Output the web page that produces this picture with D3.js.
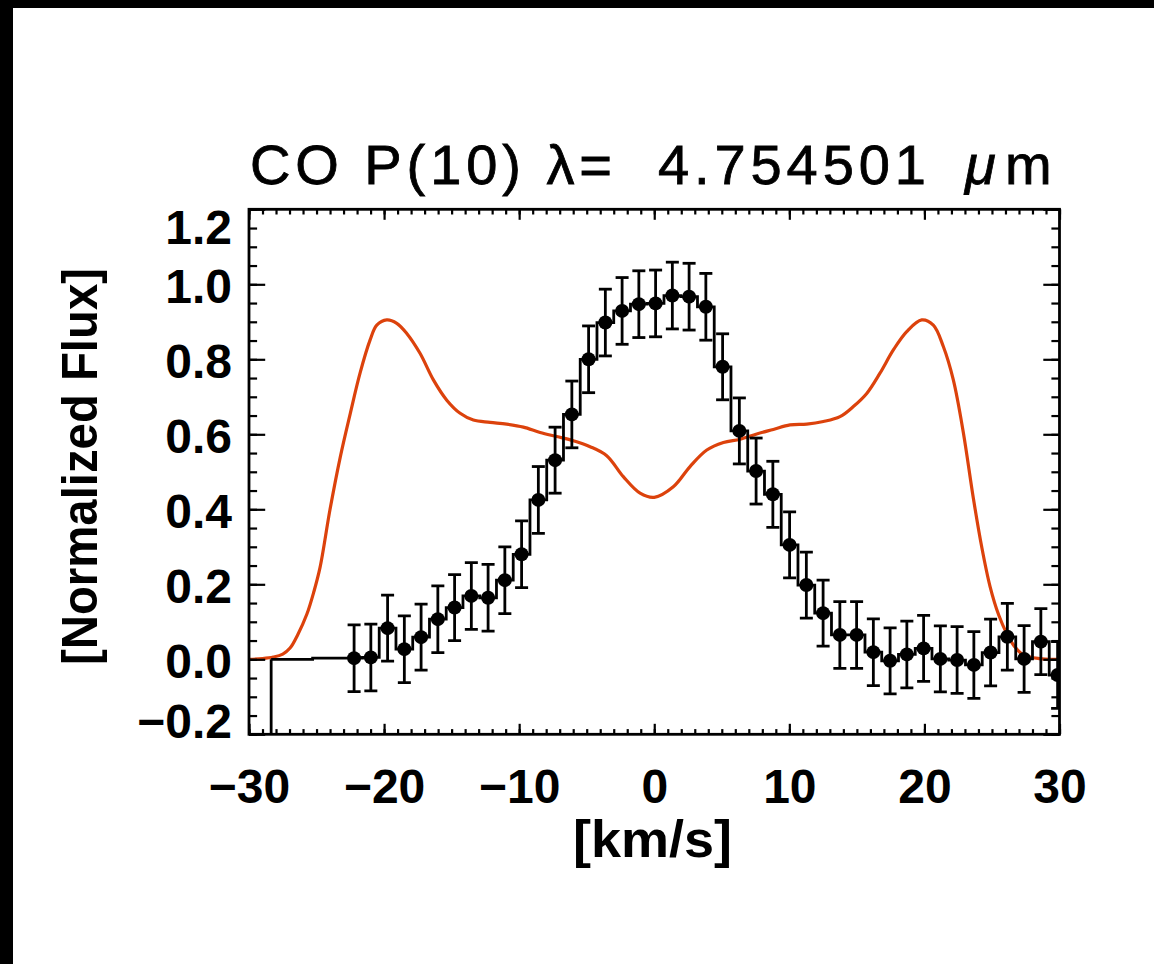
<!DOCTYPE html>
<html>
<head>
<meta charset="utf-8">
<script src="https://cdn.jsdelivr.net/npm/d3@7"></script>
<style>
  html, body { margin: 0; padding: 0; background: #fff; }
  svg { display: block; }
  text { font-family: "Liberation Sans", Arial, sans-serif; fill: #000; white-space: pre; }
</style>
</head>
<body>
<svg id="chart" width="1154" height="964"></svg>
<script>
// Observed line profile: bin velocities (km/s), normalized flux, 1-sigma errors
const velocity = [-22.22, -20.98, -19.74, -18.50, -17.26, -16.02, -14.78, -13.54, -12.30, -11.06,
                  -9.82, -8.58, -7.34, -6.10, -4.86, -3.62, -2.38, -1.14, 0.10, 1.34,
                  2.58, 3.82, 5.06, 6.30, 7.54, 8.78, 10.02, 11.26, 12.50, 13.74,
                  14.98, 16.22, 17.46, 18.70, 19.94, 21.18, 22.42, 23.66, 24.90, 26.14,
                  27.38, 28.62, 29.86];
const flux = [0.003, 0.005, 0.083, 0.027, 0.059, 0.107, 0.138, 0.169, 0.164, 0.211,
              0.280, 0.425, 0.531, 0.653, 0.800, 0.898, 0.929, 0.947, 0.949, 0.970,
              0.967, 0.940, 0.780, 0.609, 0.502, 0.440, 0.305, 0.198, 0.123, 0.065,
              0.065, 0.019, -0.004, 0.013, 0.029, 0.001, -0.002, -0.015, 0.018, 0.060,
              0.001, 0.047, -0.042];
const fluxErr = [0.089, 0.089, 0.088, 0.089, 0.088, 0.089, 0.088, 0.089, 0.089, 0.089,
                 0.089, 0.089, 0.088, 0.089, 0.089, 0.089, 0.089, 0.089, 0.089, 0.089,
                 0.089, 0.089, 0.088, 0.088, 0.088, 0.088, 0.088, 0.088, 0.088, 0.089,
                 0.089, 0.089, 0.088, 0.089, 0.088, 0.088, 0.089, 0.089, 0.089, 0.089,
                 0.089, 0.088, 0.089];
// Leading part of the histogram trace (unmarked bin rising from below the window)
const leadVelocity = [-28.36, -28.36];
const leadFlux = [-0.30, 0.0];

// Model profile (double-peaked disk emission)
const modelVelocity = [-30.0, -29.0, -28.2, -27.5, -26.96, -26.4, -25.72, -25.2, -24.74, -24.0,
                       -23.24, -22.5, -21.78, -21.04, -20.54, -19.8, -19.06, -18.32, -17.34, -16.35,
                       -15.36, -14.37, -13.39, -12.15, -10.92, -9.69, -8.45, -7.22, -5.99, -4.75,
                       -3.52, -2.29, -1.05, 0.0, 1.41, 2.65, 3.89, 5.12, 6.35, 7.59,
                       8.82, 10.05, 11.29, 12.52, 13.75, 14.74, 15.73, 16.71, 17.7, 18.69,
                       19.8, 20.66, 21.4, 22.14, 22.88, 23.62, 24.24, 24.86, 25.5, 26.09,
                       26.7, 27.32, 28.5, 29.8, 30.0];
const modelFlux = [0.000, 0.002, 0.006, 0.014, 0.030, 0.065, 0.120, 0.180, 0.245, 0.400,
                   0.540, 0.656, 0.763, 0.851, 0.891, 0.905, 0.896, 0.869, 0.816, 0.745,
                   0.691, 0.656, 0.638, 0.632, 0.627, 0.619, 0.605, 0.594, 0.583, 0.567,
                   0.543, 0.487, 0.443, 0.432, 0.460, 0.514, 0.558, 0.578, 0.587, 0.601,
                   0.613, 0.625, 0.627, 0.634, 0.647, 0.674, 0.709, 0.763, 0.825, 0.874,
                   0.905, 0.891, 0.834, 0.745, 0.605, 0.430, 0.300, 0.194, 0.118, 0.069,
                   0.033, 0.012, 0.002, 0.000, 0.000];

// Axis ticks and labels
const xMajorTicks = [-30, -20, -10, 0, 10, 20, 30];
const xTickLabels = ["\u221230", "\u221220", "\u221210", "0", "10", "20", "30"];
const xMinorTicks = d3.range(-30, 31, 1);
const yMajorTicks = [-0.2, 0.0, 0.2, 0.4, 0.6, 0.8, 1.0, 1.2];
const yTickLabels = ["\u22120.2", "0.0", "0.2", "0.4", "0.6", "0.8", "1.0", "1.2"];
const yMinorTicks = d3.range(-0.2, 1.2001, 0.05);

const titleMain = "CO P(10) \u03bb=  4.754501";
const titleMu = "\u03bc";
const titleM = "m";
const xTitle = "[km/s]";
const yTitle = "[Normalized Flux]";

(function drawChart() {
  const svg = d3.select("#chart");
  const W = 1154, H = 964;
  const pLeft = 249, pRight = 1059.5, pTop = 209.3, pBottom = 734.3;

  const x = d3.scaleLinear().domain([-30, 30]).range([pLeft, pRight]);
  const y = d3.scaleLinear().domain([-0.2, 1.2]).range([pBottom, pTop]);

  svg.append("rect").attr("width", W).attr("height", H).attr("fill", "#fff");
  // dark margin strips along the top and left edges
  svg.append("rect").attr("x", 0).attr("y", 0).attr("width", W).attr("height", 8).attr("fill", "#000");
  svg.append("rect").attr("x", 0).attr("y", 0).attr("width", 13).attr("height", H).attr("fill", "#000");

  svg.append("clipPath").attr("id", "plotClip")
    .append("rect").attr("x", pLeft).attr("y", pTop)
    .attr("width", pRight - pLeft).attr("height", pBottom - pTop);

  const plot = svg.append("g").attr("clip-path", "url(#plotClip)");

  // model curve
  const modelLine = d3.line()
    .x((d, i) => x(modelVelocity[i]))
    .y((d, i) => y(modelFlux[i]))
    .curve(d3.curveCatmullRom.alpha(0.5));
  plot.append("path")
    .attr("d", modelLine(modelVelocity))
    .attr("fill", "none")
    .attr("stroke", "#dc420c")
    .attr("stroke-width", 3.2);

  // histogram trace of the data
  const leadPts = leadVelocity.map((v, i) => [v, leadFlux[i]]);
  plot.append("path")
    .attr("d", d3.line().x(d => x(d[0])).y(d => y(d[1]))(leadPts))
    .attr("fill", "none").attr("stroke", "#000").attr("stroke-width", 2.8);
  const stepPts = [[leadVelocity[1], leadFlux[1]]].concat(velocity.map((v, i) => [v, flux[i]]));
  plot.append("path")
    .attr("d", d3.line().x(d => x(d[0])).y(d => y(d[1])).curve(d3.curveStep)(stepPts))
    .attr("fill", "none").attr("stroke", "#000").attr("stroke-width", 2.8)
    .attr("stroke-linejoin", "miter");

  // error bars
  const eb = plot.append("g").attr("stroke", "#000").attr("stroke-width", 2.8);
  velocity.forEach((v, i) => {
    const cx = x(v), y0 = y(flux[i] - fluxErr[i]), y1 = y(flux[i] + fluxErr[i]);
    eb.append("line").attr("x1", cx).attr("x2", cx).attr("y1", y0).attr("y2", y1);
    eb.append("line").attr("x1", cx - 6.5).attr("x2", cx + 6.5).attr("y1", y0).attr("y2", y0);
    eb.append("line").attr("x1", cx - 6.5).attr("x2", cx + 6.5).attr("y1", y1).attr("y2", y1);
  });

  // markers
  plot.append("g").selectAll("circle")
    .data(velocity)
    .join("circle")
    .attr("cx", d => x(d))
    .attr("cy", (d, i) => y(flux[i]))
    .attr("r", 7)
    .attr("fill", "#000");

  // axes: inward ticks on all four sides
  const xMajLen = 10.5, xMinLen = 5.2, yMajLen = 16.2, yMinLen = 8.1;
  const tickStyle = g => {
    g.select(".domain").remove();
    g.selectAll(".tick line").attr("stroke", "#000").attr("stroke-width", 2.2);
  };

  svg.append("g").attr("transform", `translate(0,${pBottom})`)
    .call(d3.axisBottom(x).tickValues(xMinorTicks).tickSize(-xMinLen).tickFormat(""))
    .call(tickStyle);
  svg.append("g").attr("transform", `translate(0,${pTop})`)
    .call(d3.axisTop(x).tickValues(xMinorTicks).tickSize(-xMinLen).tickFormat(""))
    .call(tickStyle);
  svg.append("g").attr("transform", `translate(0,${pTop})`)
    .call(d3.axisTop(x).tickValues(xMajorTicks).tickSize(-xMajLen).tickFormat(""))
    .call(tickStyle);
  const xAxis = svg.append("g").attr("transform", `translate(0,${pBottom})`)
    .call(d3.axisBottom(x).tickValues(xMajorTicks).tickSize(-xMajLen)
      .tickFormat((d, i) => xTickLabels[i]))
    .call(tickStyle);
  xAxis.selectAll(".tick text")
    .attr("y", 69).attr("dy", null)
    .attr("font-size", 48).attr("font-weight", "bold")
    .attr("font-family", "Liberation Sans, Arial, sans-serif")
    .attr("fill", "#000");

  svg.append("g").attr("transform", `translate(${pLeft},0)`)
    .call(d3.axisLeft(y).tickValues(yMinorTicks).tickSize(-yMinLen).tickFormat(""))
    .call(tickStyle);
  svg.append("g").attr("transform", `translate(${pRight},0)`)
    .call(d3.axisRight(y).tickValues(yMinorTicks).tickSize(-yMinLen).tickFormat(""))
    .call(tickStyle);
  svg.append("g").attr("transform", `translate(${pRight},0)`)
    .call(d3.axisRight(y).tickValues(yMajorTicks).tickSize(-yMajLen).tickFormat(""))
    .call(tickStyle);
  const yAxis = svg.append("g").attr("transform", `translate(${pLeft},0)`)
    .call(d3.axisLeft(y).tickValues(yMajorTicks).tickSize(-yMajLen)
      .tickFormat((d, i) => yTickLabels[i]))
    .call(tickStyle);
  // labels at the ends of the axis are kept inside the frame height
  yAxis.selectAll(".tick text")
    .attr("x", -17)
    .attr("y", d => {
      const p = y(d);
      return Math.min(Math.max(p, pTop + 16), pBottom - 15) - p + 18;
    })
    .attr("dy", null)
    .attr("font-size", 48).attr("font-weight", "bold")
    .attr("font-family", "Liberation Sans, Arial, sans-serif")
    .attr("fill", "#000");

  // plot frame
  svg.append("rect")
    .attr("x", pLeft).attr("y", pTop)
    .attr("width", pRight - pLeft).attr("height", pBottom - pTop)
    .attr("fill", "none").attr("stroke", "#000").attr("stroke-width", 2.8);

  // titles
  svg.append("text")
    .attr("x", 250).attr("y", 184)
    .attr("font-size", 56)
    .attr("stroke", "#000").attr("stroke-width", 0.8)
    .attr("textLength", 676).attr("lengthAdjust", "spacing")
    .text(titleMain);
  svg.append("text")
    .attr("x", 965).attr("y", 184)
    .attr("font-size", 56).attr("font-style", "italic")
    .attr("stroke", "#000").attr("stroke-width", 0.8)
    .text(titleMu);
  svg.append("text")
    .attr("x", 1005).attr("y", 184)
    .attr("font-size", 56)
    .attr("stroke", "#000").attr("stroke-width", 0.8)
    .text(titleM);

  svg.append("text")
    .attr("x", 573).attr("y", 857)
    .attr("font-size", 52).attr("font-weight", "bold")
    .attr("textLength", 159).attr("lengthAdjust", "spacingAndGlyphs")
    .text(xTitle);

  svg.append("text")
    .attr("transform", "translate(97,665) rotate(-90)")
    .attr("font-size", 50).attr("font-weight", "bold")
    .attr("textLength", 397).attr("lengthAdjust", "spacingAndGlyphs")
    .text(yTitle);
})();
</script>
</body>
</html>
